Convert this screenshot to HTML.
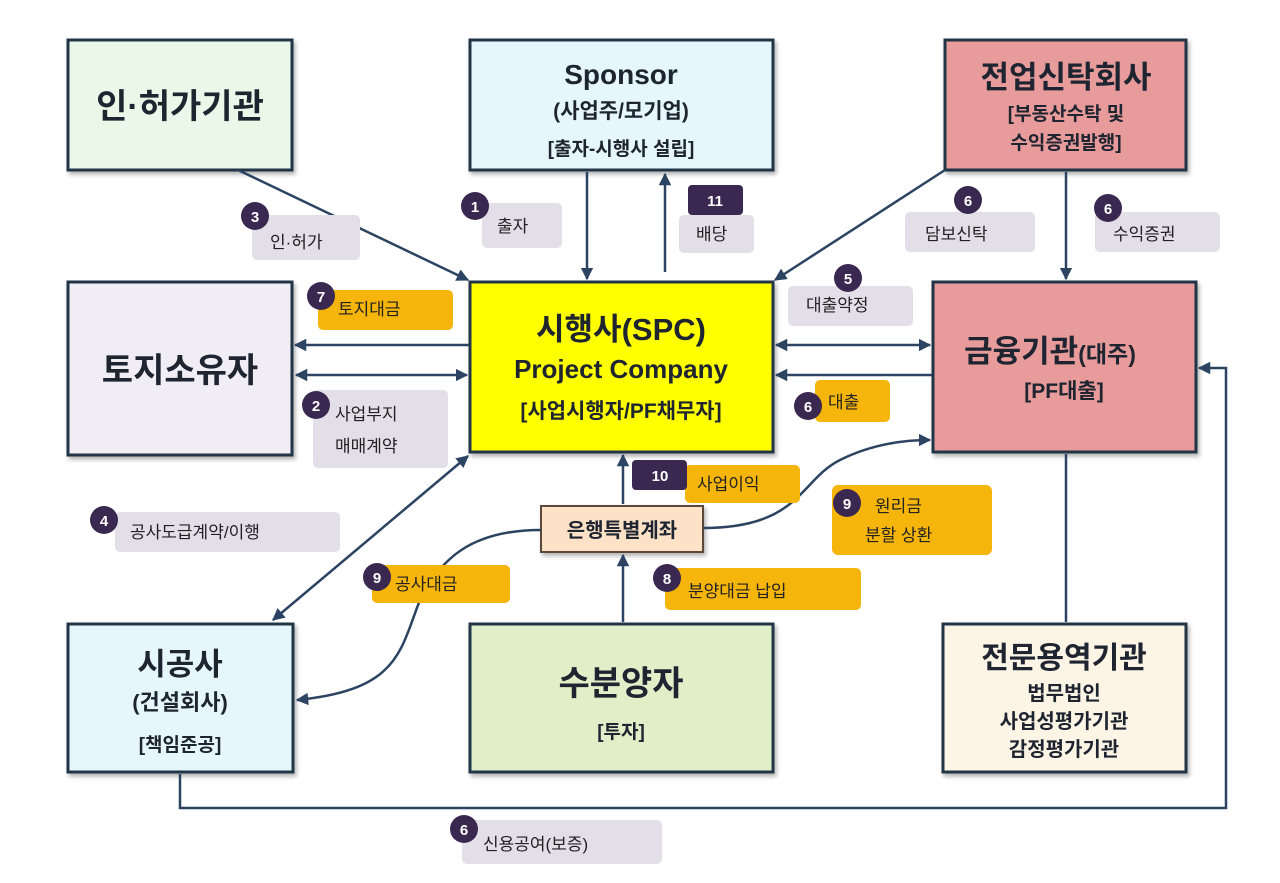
<!DOCTYPE html>
<html><head><meta charset="utf-8"><style>
body{margin:0;background:#fff;}
svg{display:block;font-family:"Liberation Sans","Noto Sans CJK KR",sans-serif;}
.b{stroke:#243447;stroke-width:3;}
.t{font-weight:bold;fill:#1e2430;text-anchor:middle;}
.l{stroke:#2c4462;stroke-width:2.5;fill:none;}
.g{fill:#e2dfe8;}
.y{fill:#f5b50a;}
.c{fill:#3b2850;}
.n{fill:#fff;font-weight:bold;font-size:15px;text-anchor:middle;}
.s{font-size:17px;fill:#222;}
</style></head><body>
<svg width="1280" height="883" viewBox="0 0 1280 883">
<defs>
<marker id="a" viewBox="0 0 10 10" refX="9" refY="5" markerWidth="5" markerHeight="5" orient="auto-start-reverse"><path d="M0,0L10,5L0,10z" fill="#2c4462"/></marker>
<filter id="sh"><feDropShadow dx="2" dy="3" stdDeviation="2" flood-opacity="0.3"/></filter>
</defs>

<!-- boxes -->
<g filter="url(#sh)">
<rect class="b" x="68" y="40" width="224" height="130" fill="#e9f8e8"/>
<rect class="b" x="470" y="40" width="303" height="130" fill="#e6f7fb"/>
<rect class="b" x="945" y="40" width="241" height="130" fill="#e79b9b"/>
<rect class="b" x="68" y="282" width="224" height="173" fill="#f0edf5"/>
<rect class="b" x="470" y="282" width="303" height="170" fill="#ffff00"/>
<rect class="b" x="933" y="282" width="263" height="170" fill="#e79b9b"/>
<rect class="b" x="68" y="624" width="225" height="148" fill="#e6f7fb"/>
<rect class="b" x="470" y="624" width="303" height="148" fill="#e0efc8"/>
<rect class="b" x="943" y="624" width="243" height="148" fill="#fcf5e6"/>
<rect x="541" y="506" width="162" height="46" fill="#fde2c8" stroke="#5a4a3a" stroke-width="2"/>
</g>

<!-- connectors -->
<line class="l" x1="238" y1="170" x2="468" y2="280" marker-end="url(#a)"/>
<line class="l" x1="587" y1="172" x2="587" y2="279" marker-end="url(#a)"/>
<line class="l" x1="665" y1="272" x2="665" y2="174" marker-end="url(#a)"/>
<line class="l" x1="945" y1="170" x2="775" y2="280" marker-end="url(#a)"/>
<line class="l" x1="1066" y1="172" x2="1066" y2="279" marker-end="url(#a)"/>
<line class="l" x1="469" y1="345" x2="295" y2="345" marker-end="url(#a)"/>
<line class="l" x1="296" y1="375" x2="467" y2="375" marker-start="url(#a)" marker-end="url(#a)"/>
<line class="l" x1="776" y1="345" x2="930" y2="345" marker-start="url(#a)" marker-end="url(#a)"/>
<line class="l" x1="932" y1="375" x2="776" y2="375" marker-end="url(#a)"/>
<polyline class="l" points="180,774 180,808 1226,808 1226,368 1199,368" marker-end="url(#a)"/>
<line class="l" x1="1066" y1="454" x2="1066" y2="622"/>
<line class="l" x1="468" y1="456" x2="273" y2="620" marker-start="url(#a)" marker-end="url(#a)"/>
<line class="l" x1="623" y1="504" x2="623" y2="455" marker-end="url(#a)"/>
<line class="l" x1="623" y1="622" x2="623" y2="555" marker-end="url(#a)"/>
<path class="l" d="M703,528 C800,528 800,480 840,460 C870,445 900,440 930,440" marker-end="url(#a)"/>
<path class="l" d="M541,530 C470,530 440,560 420,600 C400,650 400,690 297,700" marker-end="url(#a)"/>

<text class="t" x="180" y="118" font-size="34">인·허가기관</text>
<text class="t" x="621" y="84" font-size="28">Sponsor</text>
<text class="t" x="621" y="118" font-size="21">(사업주/모기업)</text>
<text class="t" x="621" y="155" font-size="19">[출자-시행사 설립]</text>
<text class="t" x="1066" y="88" font-size="31">전업신탁회사</text>
<text class="t" x="1066" y="120" font-size="19">[부동산수탁 및</text>
<text class="t" x="1066" y="149" font-size="19">수익증권발행]</text>
<text class="t" x="180" y="382" font-size="34">토지소유자</text>
<text class="t" x="621" y="340" font-size="31">시행사(SPC)</text>
<text class="t" x="621" y="378" font-size="26">Project Company</text>
<text class="t" x="621" y="418" font-size="21">[사업시행자/PF채무자]</text>
<text class="t" x="1050" y="362" font-size="31">금융기관<tspan font-size="23">(대주)</tspan></text>
<text class="t" x="1064" y="398" font-size="21">[PF대출]</text>
<text class="t" x="180" y="675" font-size="31">시공사</text>
<text class="t" x="180" y="710" font-size="22">(건설회사)</text>
<text class="t" x="180" y="751" font-size="19">[책임준공]</text>
<text class="t" x="621" y="695" font-size="34">수분양자</text>
<text class="t" x="621" y="738" font-size="19">[투자]</text>
<text class="t" x="1064" y="668" font-size="30">전문용역기관</text>
<text class="t" x="1064" y="700" font-size="20">법무법인</text>
<text class="t" x="1064" y="728" font-size="20">사업성평가기관</text>
<text class="t" x="1064" y="756" font-size="20">감정평가기관</text>
<text class="t" x="622" y="537" font-size="20">은행특별계좌</text>

<!-- gray callouts -->
<rect class="g" x="252" y="215" width="108" height="45" rx="5"/>
<text class="s" x="270" y="248">인·허가</text>
<rect class="g" x="482" y="203" width="80" height="45" rx="5"/>
<text class="s" x="497" y="232">출자</text>
<rect class="g" x="679" y="215" width="75" height="38" rx="5"/>
<text class="s" x="696" y="240">배당</text>
<rect class="g" x="905" y="212" width="130" height="40" rx="5"/>
<text class="s" x="925" y="240">담보신탁</text>
<rect class="g" x="1095" y="212" width="125" height="40" rx="5"/>
<text class="s" x="1113" y="240">수익증권</text>
<rect class="g" x="788" y="286" width="125" height="40" rx="5"/>
<text class="s" x="806" y="311">대출약정</text>
<rect class="g" x="313" y="390" width="135" height="78" rx="5"/>
<text class="s" x="335" y="420">사업부지</text>
<text class="s" x="335" y="452">매매계약</text>
<rect class="g" x="115" y="512" width="225" height="40" rx="5"/>
<text class="s" x="130" y="538">공사도급계약/이행</text>
<rect class="g" x="462" y="820" width="200" height="44" rx="5"/>
<text class="s" x="483" y="850">신용공여(보증)</text>

<!-- yellow callouts -->
<rect class="y" x="318" y="290" width="135" height="40" rx="5"/>
<text class="s" x="338" y="315">토지대금</text>
<rect class="y" x="815" y="380" width="75" height="42" rx="5"/>
<text class="s" x="828" y="408">대출</text>
<rect class="y" x="685" y="465" width="115" height="38" rx="5"/>
<text class="s" x="697" y="490">사업이익</text>
<rect class="y" x="832" y="485" width="160" height="70" rx="6"/>
<text class="s" x="875" y="512">원리금</text>
<text class="s" x="865" y="541">분할 상환</text>
<rect class="y" x="372" y="565" width="138" height="38" rx="5"/>
<text class="s" x="395" y="590">공사대금</text>
<rect class="y" x="665" y="568" width="196" height="42" rx="5"/>
<text class="s" x="688" y="597">분양대금 납입</text>

<!-- numbers -->
<circle class="c" cx="255" cy="216" r="14"/><text class="n" x="255" y="222">3</text>
<circle class="c" cx="475" cy="206" r="14"/><text class="n" x="475" y="212">1</text>
<rect class="c" x="688" y="185" width="55" height="30" rx="4"/><text class="n" x="715" y="206">11</text>
<circle class="c" cx="968" cy="200" r="14"/><text class="n" x="968" y="206">6</text>
<circle class="c" cx="1108" cy="208" r="14"/><text class="n" x="1108" y="214">6</text>
<circle class="c" cx="848" cy="278" r="14"/><text class="n" x="848" y="284">5</text>
<circle class="c" cx="321" cy="296" r="14"/><text class="n" x="321" y="302">7</text>
<circle class="c" cx="316" cy="405" r="14"/><text class="n" x="316" y="411">2</text>
<circle class="c" cx="808" cy="406" r="14"/><text class="n" x="808" y="412">6</text>
<rect class="c" x="632" y="460" width="55" height="30" rx="4"/><text class="n" x="660" y="481">10</text>
<circle class="c" cx="104" cy="520" r="14"/><text class="n" x="104" y="526">4</text>
<circle class="c" cx="847" cy="503" r="14"/><text class="n" x="847" y="509">9</text>
<circle class="c" cx="377" cy="577" r="14"/><text class="n" x="377" y="583">9</text>
<circle class="c" cx="667" cy="578" r="14"/><text class="n" x="667" y="584">8</text>
<circle class="c" cx="464" cy="829" r="14"/><text class="n" x="464" y="835">6</text>
</svg>
</body></html>
